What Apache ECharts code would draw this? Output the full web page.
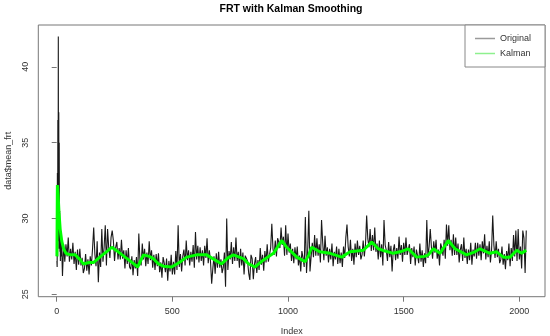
<!DOCTYPE html>
<html>
<head>
<meta charset="utf-8">
<script src="https://cdn.jsdelivr.net/npm/echarts@6/dist/echarts.min.js"></script>
<style>html,body{margin:0;padding:0;background:#fff;}#c{width:550px;height:336px;}</style>
</head>
<body>
<div id="c"></div>
<script>
// ---- data ----
const xTicks = [0, 500, 1000, 1500, 2000];
const yTicks = [25, 30, 35, 40];
// Original series: first points at index 1..19, then every 5th index from 20
const origEarly = [27.2, 26.8, 33.0, 27.5, 36.5, 28.0, 42.0, 29.0, 37.0, 28.5, 35.0, 28.0, 30.5, 27.8, 29.5, 27.2, 29.0, 27.5, 28.6];
const origStart = 20, origStep = 5;
const origValues = [
29.1,26.2,28.3,27.15,28.3,27.5,28.75,27.15,28.0,27.3,28.4,27.0,27.8,26.6,27.95,26.95,28.0,26.9,27.4,26.4,
26.7,27.65,26.55,27.3,26.3,27.5,26.9,28.0,29.4,27.65,26.85,28.5,25.8,27.75,26.8,29.3,27.15,28.1,29.55,26.9,
29.3,28.05,27.4,28.75,29.2,28.55,27.2,28.1,28.45,27.3,28.05,27.3,28.6,27.35,27.9,26.7,27.9,27.0,28.05,26.8,
26.65,27.5,26.25,27.25,26.7,27.45,26.2,29.0,27.2,26.9,28.35,27.3,28.0,26.85,27.75,27.0,28.5,27.25,27.9,26.75,
27.6,26.6,27.65,26.85,27.7,26.45,27.1,26.1,27.45,27.05,26.45,27.35,25.9,27.2,26.5,27.6,26.3,27.15,26.3,27.85,
26.6,29.55,26.8,27.65,26.5,27.5,27.95,26.9,28.55,27.25,27.9,26.9,27.8,27.15,28.25,26.75,29.1,27.3,28.2,27.1,
28.1,27.2,27.9,26.9,28.2,27.4,28.7,27.05,27.9,27.15,25.7,26.7,27.5,26.35,27.7,26.75,27.8,26.75,27.3,26.4,
26.75,27.75,25.5,30.0,26.6,27.85,27.3,28.45,27.0,28.1,27.2,28.75,27.2,27.8,26.75,28.0,26.9,27.75,26.3,27.55,
27.6,27.2,26.4,25.95,27.6,27.35,26.0,27.0,27.45,26.4,27.25,26.6,28.05,26.95,27.6,26.55,27.85,27.1,28.3,27.15,
27.1,28.05,29.65,28.0,27.6,28.55,27.5,28.7,28.45,28.05,29.4,28.25,28.8,27.55,29.55,27.6,29.0,27.75,28.35,27.2,
28.0,27.05,28.1,27.3,28.15,26.9,27.55,26.5,27.85,27.4,26.8,30.1,26.4,27.85,30.5,26.5,27.5,28.4,27.45,28.9,
27.55,28.7,27.55,28.3,27.1,29.9,28.4,27.25,28.85,27.55,28.1,27.1,28.0,27.3,28.35,26.85,27.8,27.3,28.15,27.0,
28.0,27.05,27.75,26.8,28.15,27.4,28.75,29.6,28.15,27.5,28.6,27.2,28.0,26.95,28.35,27.45,28.55,27.6,28.2,27.3,
27.6,28.55,27.5,28.3,30.2,28.65,28.1,29.3,27.85,28.9,27.9,29.4,27.8,28.35,27.3,28.55,27.45,28.3,26.9,29.9,
28.25,27.9,27.2,28.45,27.45,28.2,26.5,27.9,28.3,27.25,28.05,27.35,28.8,27.6,28.25,27.15,28.4,27.6,28.75,27.6,
27.5,28.3,27.0,28.05,27.45,28.15,26.9,27.95,27.55,27.05,28.35,27.15,27.9,26.8,27.7,27.05,29.9,27.4,28.15,29.3,
28.1,27.35,28.5,27.75,28.6,27.35,27.95,26.9,28.35,28.05,27.55,28.6,27.35,29.6,28.2,29.55,27.9,28.6,27.55,28.95,
27.6,28.75,27.6,28.35,27.1,27.95,28.3,27.2,28.75,27.4,28.0,27.0,27.95,27.25,28.4,26.95,27.95,27.5,28.4,27.35,
28.4,27.55,28.3,27.25,28.5,27.7,28.95,27.3,28.2,27.45,28.5,27.1,27.9,30.2,28.25,27.4,28.5,27.45,28.0,27.05,
27.3,28.15,26.95,27.65,26.65,27.85,27.25,28.35,26.85,28.05,27.2,28.9,27.5,29.2,27.2,29.3,27.3,28.15,26.7,29.2,
28.7,26.4,29.2
];
// Kalman smoothed series
const kalmanIndex = [1,3,6,10,15,22,30,40,60,80,100,115,140,160,190,215,238,266,300,330,350,375,400,418,440,461,497,530,562,605,648,680,713,740,764,807,830,857,893,937,973,994,1015,1038,1074,1090,1102,1138,1182,1232,1268,1326,1362,1390,1420,1455,1484,1520,1556,1590,1607,1628,1657,1693,1722,1772,1808,1830,1873,1902,1931,1960,1989,2010,2030];
const kalmanValue = [27.5,32.2,31.6,30.4,29.3,28.5,28.0,27.7,27.6,27.6,27.3,27.0,27.1,27.1,27.5,27.8,28.1,27.8,27.4,27.05,26.8,27.6,27.5,27.35,27.0,26.85,26.8,27.1,27.45,27.6,27.6,27.3,27.0,27.4,27.6,27.35,27.0,26.8,27.25,27.7,28.55,28.1,27.8,27.45,27.15,27.6,28.1,27.8,27.7,27.45,27.8,27.9,28.45,28.0,27.85,27.7,27.8,28.0,27.45,27.5,27.6,28.0,27.7,28.55,28.0,27.6,27.8,28.0,27.7,27.8,27.45,27.45,27.9,27.7,27.9];

// ---- build series data ----
const origData = [];
origEarly.forEach((v, i) => origData.push([i + 1, v]));
origValues.forEach((v, i) => origData.push([origStart + i * origStep, v]));
const kalmanData = kalmanIndex.map((x, i) => [x, kalmanValue[i]]);

const font = 'Liberation Sans, Arial, sans-serif';
const chart = echarts.init(document.getElementById('c'), null, {renderer: 'canvas'});
chart.setOption({
  animation: false,
  backgroundColor: '#fff',
  title: {
    text: 'FRT with Kalman Smoothing',
    left: 291, top: 4, padding: 0, textAlign: 'center',
    textStyle: {fontFamily: font, fontSize: 10.5, fontWeight: 'bold', color: '#000'}
  },
  legend: {
    left: 465, top: 25, orient: 'vertical',
    padding: [9, 14, 9, 10], itemGap: 6, itemWidth: 20, itemHeight: 1.5,
    icon: 'rect', borderColor: '#888', borderWidth: 1, backgroundColor: '#fff',
    textStyle: {fontFamily: font, fontSize: 9, color: '#333'},
    data: [
      {name: 'Original', itemStyle: {color: '#9a9a9a'}},
      {name: 'Kalman', itemStyle: {color: '#8ef08e'}}
    ]
  },
  grid: {left: 38.3, right: 5, top: 25, bottom: 39.3, show: true, borderColor: '#777', borderWidth: 1, backgroundColor: 'transparent', outerBoundsMode: 'none'},
  xAxis: {
    type: 'value', min: -79.5, max: 2111,
    name: 'Index', nameLocation: 'middle', nameGap: 30,
    nameTextStyle: {fontFamily: font, fontSize: 9, color: '#333'},
    axisLine: {show: false},
    axisTick: {show: true, length: 5, customValues: xTicks, lineStyle: {color: '#777'}},
    axisLabel: {customValues: xTicks, margin: 10, fontFamily: font, fontSize: 9, color: '#333', formatter: v => String(v)},
    splitLine: {show: false}
  },
  yAxis: {
    type: 'value', min: 24.84, max: 42.76,
    name: 'data$mean_frt', nameLocation: 'middle', nameGap: 18, nameRotate: 90,
    nameTextStyle: {fontFamily: font, fontSize: 9, color: '#333'},
    axisLine: {show: false},
    axisTick: {show: true, length: 5, customValues: yTicks, lineStyle: {color: '#777'}},
    axisLabel: {customValues: yTicks, rotate: 90, margin: 8, fontFamily: font, fontSize: 9, color: '#333', formatter: v => String(v)},
    splitLine: {show: false}
  },
  series: [
    {name: 'Original', type: 'line', data: origData, showSymbol: false, sampling: null,
     lineStyle: {color: '#000', width: 1.1, opacity: 0.9}, itemStyle: {color: '#000'}},
    {name: 'Kalman', type: 'line', data: kalmanData, showSymbol: false,
     lineStyle: {color: '#00ff00', width: 3}, itemStyle: {color: '#00ff00'}}
  ]
});
</script>
</body>
</html>
